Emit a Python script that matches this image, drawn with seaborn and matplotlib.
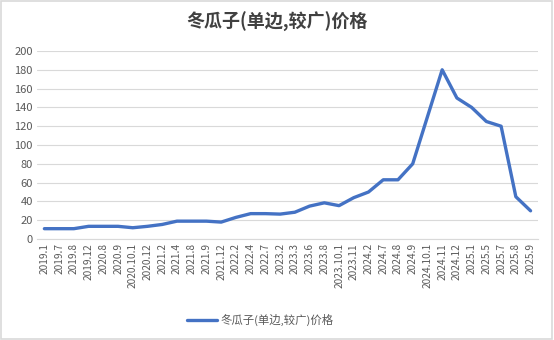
import matplotlib
matplotlib.use("Agg")
import matplotlib.pyplot as plt
import seaborn as sns
import pandas as pd
from matplotlib.patches import Rectangle

periods = ["2019.1", "2019.7", "2019.8", "2019.12", "2020.8", "2020.9", "2020.10.1",
           "2020.12", "2021.2", "2021.4", "2021.8", "2021.9", "2021.12", "2022.2",
           "2022.4", "2022.7", "2023.2", "2023.3", "2023.6", "2023.8", "2023.10.1",
           "2023.11", "2024.2", "2024.7", "2024.8", "2024.9", "2024.10.1", "2024.11",
           "2024.12", "2025.1", "2025.5", "2025.7", "2025.8", "2025.9"]
prices = [11, 11, 11, 13.5, 13.5, 13.5, 12, 13.5, 15.5, 19, 19, 19, 18, 23,
          27, 27, 26.5, 28.5, 35, 38.5, 35.5, 44, 50, 63, 63, 80, 130, 180,
          150, 140, 125, 120, 45, 30]
series_name = "冬瓜子(单边,较广)价格"
title = "冬瓜子(单边,较广)价格"
y_ticks = [0, 20, 40, 60, 80, 100, 120, 140, 160, 180, 200]

sns.set_theme(style="white")
plt.rcParams["font.family"] = ["Noto Sans CJK SC", "DejaVu Sans"]

df = pd.DataFrame({"pos": range(len(periods)), "price": prices, "series": series_name})

fig = plt.figure(figsize=(5.54, 3.40), dpi=100)
ax = fig.add_axes([0.0668, 0.297, 0.9042, 0.553])

sns.lineplot(data=df, x="pos", y="price", hue="series", palette=["#4472C4"],
             linewidth=2.4, ax=ax, legend=True, sort=False)

ax.set_xlim(-0.5, len(periods) - 0.5)
ax.set_ylim(0, 200)
ax.set_yticks(y_ticks)
ax.set_yticklabels([str(v) for v in y_ticks], fontsize=8, color="#595959")
ax.set_xticks(range(len(periods)))
ax.set_xticklabels(periods, rotation=90, fontsize=7.3, color="#595959")
ax.tick_params(axis="both", length=0, pad=3)
ax.grid(axis="y", color="#D9D9D9", linewidth=0.8)
ax.set_axisbelow(True)
for s in ["top", "right", "left"]:
    ax.spines[s].set_visible(False)
ax.spines["bottom"].set_color("#D9D9D9")
ax.spines["bottom"].set_linewidth(0.8)
ax.set_xlabel("")
ax.set_ylabel("")

handles, labels = ax.get_legend_handles_labels()
ax.legend_.remove()
fig.legend(handles, labels, loc="center", bbox_to_anchor=(0.47, 0.058),
           frameon=False, fontsize=8.2, handlelength=2.6, handletextpad=0.3,
           labelcolor="#595959")

fig.text(0.5, 0.935, title, ha="center", va="center", fontsize=13, fontweight="bold",
         color="#404040")

fig.patches.append(Rectangle((0.002, 0.003), 0.994, 0.994, transform=fig.transFigure,
                             fill=False, edgecolor="#D9D9D9", linewidth=1.2))

fig.savefig("out.png", dpi=100)
